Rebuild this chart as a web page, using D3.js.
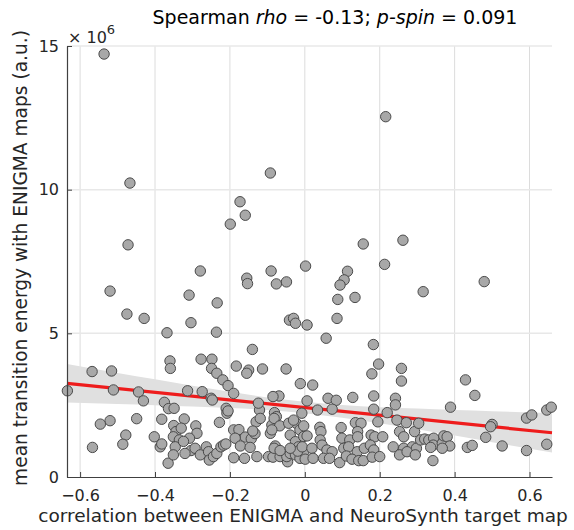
<!DOCTYPE html>
<html><head><meta charset="utf-8">
<script src="https://cdn.jsdelivr.net/npm/d3@7"></script>
<style>body{margin:0;background:#fff}svg{display:block}text{font-family:"DejaVu Sans",Verdana,sans-serif}</style>
</head><body><svg id="c" width="574" height="530"></svg>
<script>
// correlation between ENIGMA and NeuroSynth target map (x) and mean transition energy (y, x10^6)
const pointX = [
-0.536,0.216,-0.467,-0.092,-0.173,-0.159,-0.199,-0.472,0.156,0.262,-0.279,-0.090,0.002,0.114,0.105,0.094,0.213,0.088,0.134,0.316,0.479,-0.155,-0.153,-0.076,-0.049,-0.520,-0.309,-0.234,
-0.475,-0.429,-0.304,-0.368,-0.236,-0.140,-0.041,-0.030,-0.025,0.006,0.086,0.057,0.183,0.197,0.179,0.258,0.258,0.429,0.454,
-0.360,-0.359,-0.277,-0.248,-0.249,-0.235,-0.219,-0.205,-0.190,-0.183,-0.150,-0.155,-0.113,-0.050,-0.012,0.021,-0.568,-0.516,-0.634,-0.511,-0.444,-0.431,-0.375,-0.364,-0.349,-0.313,-0.274,-0.250,-0.247,-0.210,-0.208,-0.205,-0.121,-0.124,-0.130,-0.228,-0.069,-0.085,-0.081,-0.076,
-0.382,-0.449,-0.520,-0.546,-0.478,-0.486,-0.567,-0.402,-0.386,-0.382,-0.350,-0.344,-0.351,-0.335,-0.346,-0.365,-0.351,-0.322,-0.330,-0.291,-0.288,-0.308,-0.304,-0.293,-0.324,-0.320,-0.279,-0.263,-0.257,-0.255,-0.244,-0.235,-0.224,-0.217,-0.211,
-0.190,-0.161,-0.128,-0.097,-0.085,-0.066,-0.046,-0.048,-0.039,-0.025,-0.013,-0.003,-0.190,-0.176,-0.159,-0.143,-0.186,-0.172,-0.146,-0.133,-0.139,-0.119,-0.092,-0.088,-0.082,-0.067,-0.079,-0.082,-0.039,-0.023,-0.025,-0.017,-0.019,-0.043,-0.088,-0.066,-0.039,-0.013,-0.030,-0.003,
0.006,-0.008,0.034,0.062,0.084,0.073,0.128,-0.003,0.040,0.043,0.097,0.135,0.150,0.141,0.195,0.006,0.041,0.099,0.120,0.141,0.177,0.187,0.208,0.253,0.264,0.293,-0.007,0.019,0.046,0.059,0.073,0.104,0.117,0.140,0.159,0.175,0.184,0.236,0.264,0.287,0.298,0.001,0.022,0.050,0.066,0.093,0.111,0.126,0.144,0.156,0.180,0.200,0.253,0.273,0.295,0.184,0.184,0.220,0.242,0.242,0.246,0.271,0.304,
0.389,0.500,0.496,0.483,0.527,0.434,0.447,0.592,0.606,0.646,0.658,0.592,0.646,0.342,0.309,0.320,0.331,0.344,0.343,0.336,0.367,0.371,0.380,0.387,0.367
];
const pointY = [
14.72,12.54,10.23,10.58,9.58,9.11,8.80,8.08,8.11,8.24,7.17,7.17,7.34,7.16,6.86,6.68,7.40,6.18,6.25,6.45,6.80,6.92,6.73,6.72,6.79,6.47,6.33,6.06,
5.67,5.52,5.37,5.02,5.04,4.44,5.46,5.52,5.35,5.29,5.52,4.83,4.61,3.93,3.59,3.78,3.34,3.38,2.84,
4.04,3.78,4.10,4.10,3.78,3.61,3.38,3.18,2.91,3.86,3.72,3.61,3.76,3.76,3.25,3.20,3.67,3.69,3.00,3.03,2.96,2.65,2.60,2.38,2.39,3.00,2.97,2.74,2.68,2.39,2.22,2.30,2.33,2.57,1.92,1.90,2.82,2.80,2.24,2.10,
2.01,2.03,1.96,1.84,1.46,1.14,1.03,1.40,1.05,1.15,1.79,1.58,1.40,1.29,1.05,0.48,0.77,2.02,1.70,1.78,1.52,1.35,0.92,1.00,1.24,0.82,0.77,1.05,0.88,0.59,0.71,0.82,1.05,1.11,1.15,
0.67,0.65,0.71,0.71,0.69,0.71,0.53,0.71,0.82,0.77,0.65,0.88,1.64,1.65,1.39,1.33,1.35,1.08,1.03,1.51,1.60,2.04,1.52,1.81,2.04,1.78,1.08,1.00,1.46,1.87,1.23,1.05,0.90,1.87,1.64,0.92,1.00,1.64,1.98,1.41,
2.65,2.22,2.33,2.74,2.67,2.36,2.77,1.78,1.73,1.58,1.72,1.89,1.87,1.58,1.92,1.43,1.29,1.35,1.29,1.40,1.46,1.40,1.40,1.58,1.40,1.58,1.05,1.00,1.11,0.94,0.88,1.00,1.05,0.88,1.00,1.11,0.94,1.05,1.00,1.05,1.00,0.62,0.65,0.65,0.65,0.50,0.73,0.62,0.57,0.57,0.69,0.71,0.77,0.88,0.77,2.82,2.36,2.24,2.74,2.51,1.98,1.89,1.87,
2.43,1.83,1.75,1.38,1.08,1.03,1.10,2.05,2.16,2.33,2.43,0.92,1.14,0.57,1.29,1.32,1.29,1.35,1.11,1.03,1.17,1.43,1.40,1.08,1.00
];
// linear fit and its confidence band
const fitX = [-0.635, 0.66];
const fitY = [3.26, 1.54];
const bandX = [-0.635,-0.5,-0.4,-0.3,-0.2,-0.1,0,0.1,0.2,0.3,0.4,0.5,0.66];
const bandUpper = [3.93,3.62,3.40,3.18,2.97,2.77,2.62,2.51,2.43,2.38,2.33,2.29,2.23];
const bandLower = [2.59,2.54,2.50,2.45,2.40,2.33,2.22,2.06,1.87,1.66,1.44,1.21,0.85];
const xTicks = [-0.6,-0.4,-0.2,0,0.2,0.4,0.6];
const yTicks = [0,5,10,15];
const xDomain = [-0.635, 0.66];
const yDomain = [0, 15];

const svg = d3.select("#c");
const L = 67, R = 552, T = 46, B = 477;
const x = d3.scaleLinear().domain(xDomain).range([L, R]);
const y = d3.scaleLinear().domain(yDomain).range([B, T]);

// grid
svg.append("g").selectAll("line").data(xTicks).join("line")
  .attr("x1", d => x(d)).attr("x2", d => x(d)).attr("y1", T).attr("y2", B)
  .attr("stroke", "#dcdcdc").attr("stroke-width", 1);
svg.append("g").selectAll("line").data(yTicks.filter(d => d > 0)).join("line")
  .attr("x1", L).attr("x2", R).attr("y1", d => y(d)).attr("y2", d => y(d))
  .attr("stroke", "#e8e8e8").attr("stroke-width", 1.5);

// band
const band = bandX.map((v, i) => ({x: v, u: bandUpper[i], l: bandLower[i]}));
svg.append("path").datum(band)
  .attr("d", d3.area().x(d => x(d.x)).y0(d => y(d.l)).y1(d => y(d.u)).curve(d3.curveMonotoneX))
  .attr("fill", "#e0e0e0");

// fit line
svg.append("path").datum(fitX.map((v, i) => [v, fitY[i]]))
  .attr("d", d3.line().x(d => x(d[0])).y(d => y(d[1])))
  .attr("stroke", "#ee1c1c").attr("stroke-width", 3.2).attr("fill", "none");

// points
svg.append("g").selectAll("circle").data(pointX.map((v, i) => [v, pointY[i]])).join("circle")
  .attr("cx", d => x(d[0])).attr("cy", d => y(d[1])).attr("r", 5.2)
  .attr("fill", "#a8a8a8").attr("stroke", "#4a4a4a").attr("stroke-width", 1);

// axes
const xAxis = d3.axisBottom(x).tickValues(xTicks).tickSizeInner(-5).tickSizeOuter(0).tickPadding(13)
  .tickFormat(d => d === 0 ? "0" : d3.format(".1f")(d));
const gx = svg.append("g").attr("transform", `translate(0,${B})`).call(xAxis);
const yAxis = d3.axisLeft(y).tickValues(yTicks).tickSizeInner(-5).tickSizeOuter(0).tickPadding(8);
const gy = svg.append("g").attr("transform", `translate(${L},0)`).call(yAxis);
[gx, gy].forEach(g => {
  g.select(".domain").attr("stroke", "#404040").attr("stroke-width", 1.2);
  g.selectAll(".tick line").attr("stroke", "#404040");
  g.selectAll(".tick text").attr("fill", "#262626").style("font-size", "16px").style("font-family", "DejaVu Sans");
});

// exponent label
const ex = svg.append("text").attr("x", 68).attr("y", 43).attr("fill", "#262626").style("font-size", "16px");
ex.append("tspan").text("× 10");
ex.append("tspan").attr("dy", -9).style("font-size", "13px").text("6");

// title
const t = svg.append("text").attr("x", 335).attr("y", 24).attr("text-anchor", "middle")
  .attr("fill", "#000").style("font-size", "19px");
t.append("tspan").text("Spearman ");
t.append("tspan").style("font-style", "italic").text("rho");
t.append("tspan").text(" = -0.13; ");
t.append("tspan").style("font-style", "italic").text("p-spin");
t.append("tspan").text(" = 0.091");

// axis labels
svg.append("text").attr("x", 303).attr("y", 522).attr("text-anchor", "middle")
  .attr("fill", "#262626").style("font-size", "18.5px")
  .text("correlation between ENIGMA and NeuroSynth target map");
svg.append("text").attr("transform", "translate(27,258) rotate(-90)").attr("text-anchor", "middle")
  .attr("fill", "#262626").style("font-size", "18.6px")
  .text("mean transition energy with ENIGMA maps (a.u.)");
</script></body></html>
